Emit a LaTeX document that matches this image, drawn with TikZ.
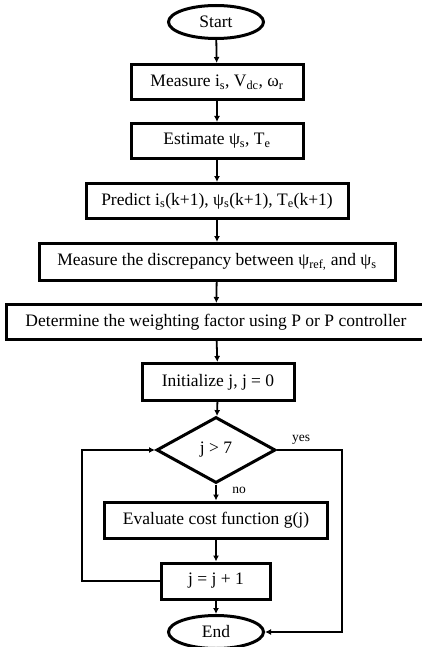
\documentclass[tikz,border=0pt]{standalone}
\usepackage{fontspec}
\setmainfont{Liberation Serif}
\usetikzlibrary{shapes.geometric,arrows.meta}
\begin{document}
\begin{tikzpicture}[x=1pt,y=-1pt,
  box/.style={draw,line width=3pt,rectangle,inner sep=0pt,minimum height=35pt,font=\fontsize{17.5}{19}\selectfont},
  term/.style={draw,line width=3pt,ellipse,inner sep=0pt,minimum width=95pt,minimum height=33pt,font=\fontsize{17.5}{19}\selectfont},
  dec/.style={draw,line width=3pt,diamond,aspect=1.8,inner sep=0pt,minimum width=119pt,minimum height=66pt,font=\fontsize{17.5}{19}\selectfont},
  conn/.style={line width=1.8pt,-{Latex[length=6pt,width=6pt]}},
  lab/.style={font=\fontsize{13.5}{15}\selectfont,inner sep=0pt}]
\useasboundingbox (0,0) rectangle (422,647);
\clip (0,0) rectangle (422,647);
\node[term] (start) at (216,22) {Start};
\node[box,minimum width=172pt] (meas) at (217,82) {Measure i\textsubscript{s}, V\textsubscript{dc}, ω\textsubscript{r}};
\node[box,minimum width=172pt] (est) at (217,141) {Estimate ψ\textsubscript{s}, T\textsubscript{e}};
\node[box,minimum width=262pt] (pred) at (217,201) {Predict i\textsubscript{s}(k+1), ψ\textsubscript{s}(k+1), T\textsubscript{e}(k+1)};
\node[box,minimum width=356pt,minimum height=37pt] (disc) at (217,262) {Measure the discrepancy between ψ\textsubscript{ref,} and ψ\textsubscript{s}};
\node[box,minimum width=420pt] (det) at (216,322) {Determine the weighting factor using P or P controller};
\node[box,minimum width=152pt,minimum height=37pt] (init) at (218,382) {Initialize j, j = 0};
\node[dec] (dj) at (216,450) {j > 7};
\node[box,minimum width=223pt,minimum height=36pt] (eval) at (216,520) {Evaluate cost function g(j)};
\node[box,minimum width=109pt,minimum height=36pt] (inc) at (216,581) {j = j + 1};
\node[term] (end) at (216,632) {End};
\coordinate (lc1) at (82,581);
\coordinate (lc2) at (82,450);
\coordinate (rc1) at (342,450);
\coordinate (rc2) at (342,632);
\draw[conn] (start) -- (meas);
\draw[conn] (meas) -- (est);
\draw[conn] (est) -- (pred);
\draw[conn] (pred) -- (disc);
\draw[conn] (disc) -- (det);
\draw[conn] (det) -- (init);
\draw[conn] (init) -- (dj);
\draw[conn] (dj) -- (eval);
\draw[conn] (eval) -- (inc);
\draw[conn] (inc) -- (end);
\draw[conn] (inc.west) -- (lc1) -- (lc2) -- (dj.west);
\draw[conn] (dj.east) -- (rc1) -- (rc2) -- (end.east);
\node[lab] (yes) at (301,440) {yes};
\node[lab] (no) at (239,490) {no};
\end{tikzpicture}
\end{document}
